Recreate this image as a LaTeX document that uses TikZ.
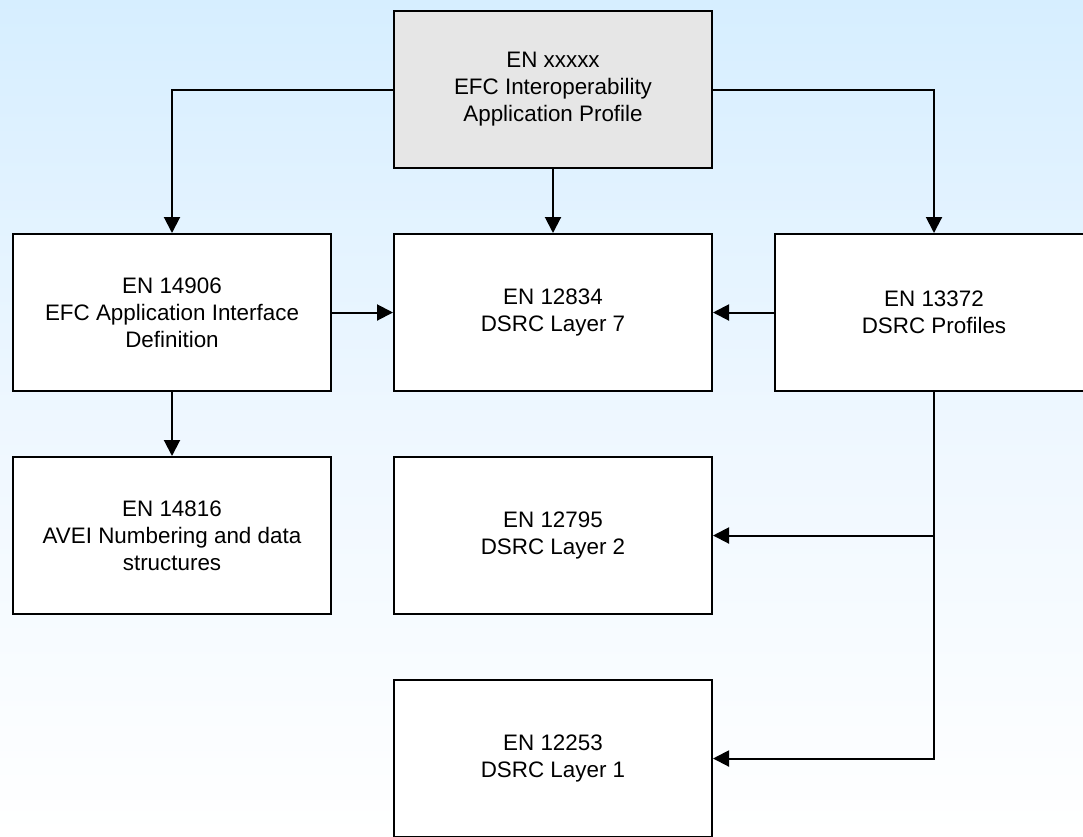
\documentclass[tikz,border=0pt]{standalone}
\usepackage{fontspec}
\setmainfont{Liberation Sans}
\usetikzlibrary{positioning}
\usetikzlibrary{arrows.meta}
\definecolor{skyblue}{RGB}{214,238,255}
\definecolor{paleblue}{RGB}{238,247,255}
\definecolor{boxgray}{RGB}{230,230,230}

\begin{document}
\begin{tikzpicture}
[line width=2pt,%
  box/.style={shape=rectangle,draw,fill=white,align=center,inner sep=0pt,%
    minimum width=318pt,minimum height=157pt,font=\fontsize{22.4}{27}\selectfont},%
  arr/.style={-{Triangle[length=16pt,width=16pt]}},%
  node distance=64pt and 61pt]
\shade[top color=skyblue,bottom color=white,middle color=paleblue]
  (0,0) rectangle (1083pt,-836pt);
\useasboundingbox (0,0) rectangle (1083pt,-836pt);
\node[box,fill=boxgray] (xxxxx) at (553pt,-89.5pt)
  {EN xxxxx\\EFC Interoperability\\Application Profile};
\node[box,below=of xxxxx] (l7) {EN 12834\\DSRC Layer 7};
\node[box,left=of l7] (iface) {EN 14906\\EFC Application Interface\\Definition};
\node[box,right=of l7] (prof) {EN 13372\\DSRC Profiles};
\node[box,below=of iface] (avei) {EN 14816\\AVEI Numbering and data\\structures};
\node[box,below=of l7] (l2) {EN 12795\\DSRC Layer 2};
\node[box,below=of l2] (l1) {EN 12253\\DSRC Layer 1};
\draw[arr] (xxxxx.west) -| (iface);
\draw[arr] (xxxxx) -- (l7);
\draw[arr] (xxxxx.east) -| (prof);
\draw[arr] (iface) -- (l7);
\draw[arr] (prof) -- (l7);
\draw[arr] (iface) -- (avei);
\draw[arr] (prof.south) |- (l2);
\draw[arr] (prof.south) |- (l1);
\end{tikzpicture}
\end{document}
